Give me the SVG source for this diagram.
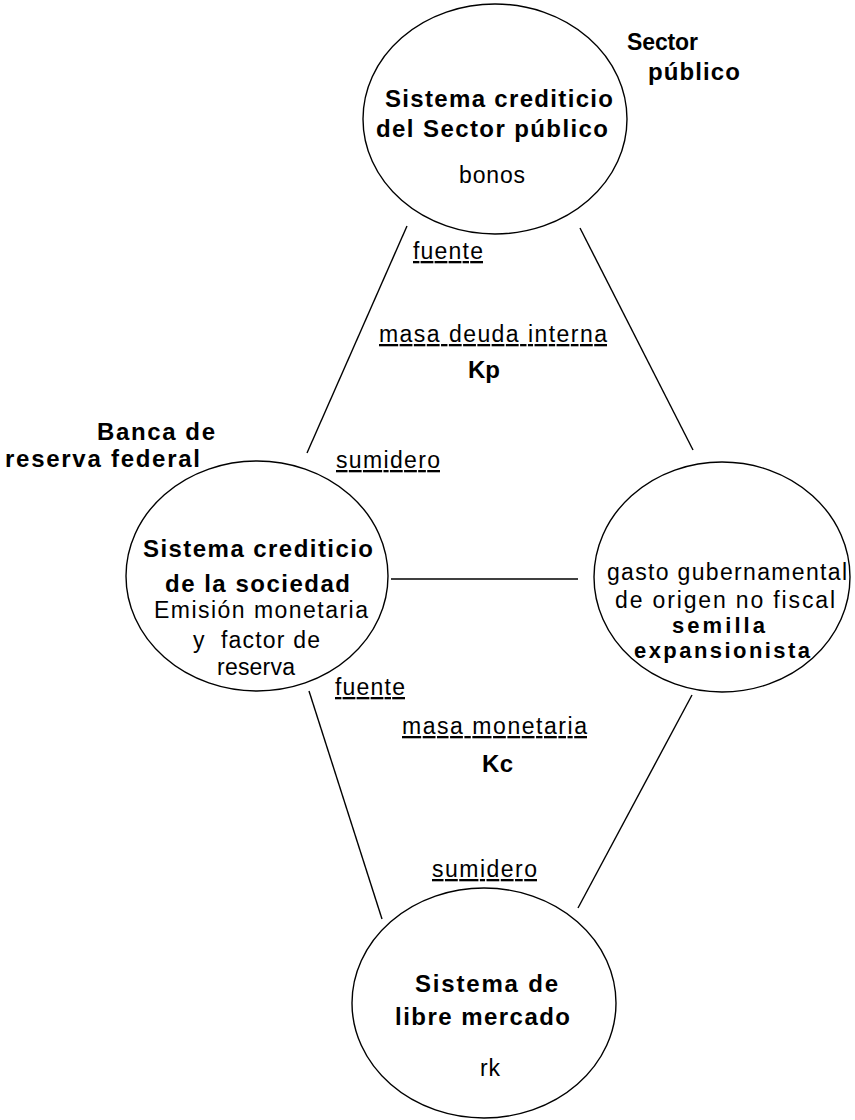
<svg xmlns="http://www.w3.org/2000/svg" width="855" height="1120" viewBox="0 0 855 1120">
<style>
text{font-family:"Liberation Sans",Arial,sans-serif;fill:#000}
.b{font-weight:bold;font-size:24px}
.r{font-size:23px}
.s{font-weight:bold;font-size:23px}
.t{font-weight:bold;font-size:22px}
.u{text-decoration:underline}
.n{fill:#fff;stroke:#000;stroke-width:1.4}
.c line{stroke:#000;stroke-width:1.4}
</style>
<rect width="855" height="1120" fill="#fff"/>
<g id="connectors" class="c">
<line x1="407" y1="226" x2="307" y2="453"/>
<line x1="580" y1="228" x2="693" y2="450"/>
<line x1="391" y1="579" x2="578" y2="579"/>
<line x1="309" y1="691" x2="382" y2="919"/>
<line x1="692" y1="695" x2="578" y2="908"/>
</g>
<g id="edge-labels">
<text class="r u" x="413" y="259" textLength="70">fuente</text>
<text class="r u" x="379" y="342" textLength="228">masa deuda interna</text>
<text class="b" x="468" y="378" textLength="32">Kp</text>
<text class="r u" x="336" y="468" textLength="104">sumidero</text>
<text class="r u" x="335" y="695" textLength="70">fuente</text>
<text class="r u" x="402" y="734" textLength="185">masa monetaria</text>
<text class="b" x="482" y="772" textLength="31">Kc</text>
<text class="r u" x="432" y="877" textLength="105">sumidero</text>
</g>
<g id="sector-publico-label">
<text class="s" x="627" y="50" textLength="71">Sector</text>
<text class="b" x="648" y="80" textLength="92">público</text>
</g>
<g id="banca-label">
<text class="b" x="97" y="440" textLength="118">Banca de</text>
<text class="b" x="5" y="467" textLength="195">reserva federal</text>
</g>
<g id="node-publico">
<ellipse class="n" cx="495" cy="119" rx="132" ry="115"/>
<text class="b" x="385" y="107" textLength="228">Sistema crediticio</text>
<text class="b" x="376" y="137" textLength="232">del Sector público</text>
<text class="r" x="459" y="183" textLength="66">bonos</text>
</g>
<g id="node-sociedad">
<ellipse class="n" cx="257" cy="576" rx="131" ry="115"/>
<text class="b" x="143" y="557" textLength="230">Sistema crediticio</text>
<text class="b" x="165" y="592" textLength="185">de la sociedad</text>
<text class="r" x="154" y="618" textLength="214">Emisión monetaria</text>
<text class="r" x="193" y="648" textLength="127" xml:space="preserve">y  factor de</text>
<text class="r" x="217" y="675" textLength="78">reserva</text>
</g>
<g id="node-gasto">
<ellipse class="n" cx="722" cy="577" rx="128" ry="115"/>
<text class="r" x="607" y="580" textLength="240">gasto gubernamental</text>
<text class="r" x="615" y="608" textLength="220">de origen no fiscal</text>
<text class="t" x="672" y="633" textLength="93">semilla</text>
<text class="t" x="634" y="658" textLength="176">expansionista</text>
</g>
<g id="node-mercado">
<ellipse class="n" cx="484" cy="1003" rx="132" ry="115"/>
<text class="b" x="415" y="992" textLength="143">Sistema de</text>
<text class="b" x="395" y="1025" textLength="175">libre mercado</text>
<text class="r" x="480" y="1076" textLength="20">rk</text>
</g>
</svg>
